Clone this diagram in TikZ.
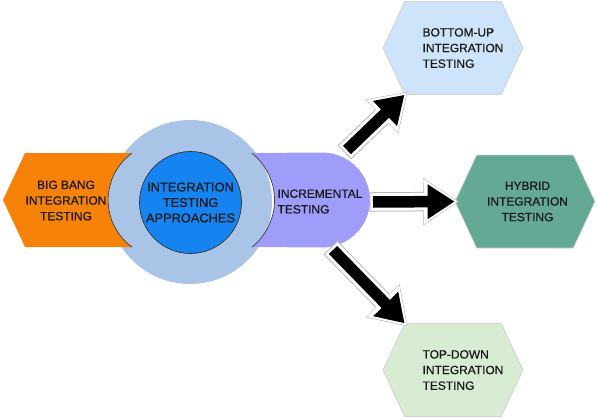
\documentclass[tikz,border=0pt]{standalone}
\usepackage{fontspec}
\setmainfont{Liberation Sans}
\newfontfamily\diagfont{Liberation Sans}[FakeBold=0.6]
\definecolor{ring_c}{RGB}{170,196,232}
\definecolor{core_c}{RGB}{22,132,240}
\definecolor{bang_c}{RGB}{246,130,10}
\definecolor{inc_c}{RGB}{160,156,250}
\definecolor{bu_c}{RGB}{206,228,250}
\definecolor{hy_c}{RGB}{100,168,150}
\definecolor{td_c}{RGB}{216,235,211}
\usetikzlibrary{arrows.meta,
                positioning,
                shapes.symbols}

\begin{document}
\begin{tikzpicture}[
			txt/.style = {font=\diagfont\fontsize{6.8}{8.9}\selectfont, text=black!90, align=center},
			hex/.style = {signal, signal to=east and west, signal pointer angle=130,
			              minimum width=2.8cm, minimum height=1.86cm, draw=gray!35, inner sep=0pt},
			blockarrow/.style = {line width=0.23cm, black,
			              -{Triangle[width=0.66cm,length=0.54cm]},
			              preaction={draw=gray!55, line width=0.39cm, shorten <=-0.07cm, shorten >=-0.09cm,
			                         -{Triangle[width=0.9cm,length=0.72cm]}},
			              preaction={draw=white, line width=0.35cm, shorten <=-0.05cm, shorten >=-0.07cm,
			                         -{Triangle[width=0.86cm,length=0.69cm]}}},
			]
			\useasboundingbox (0,0) rectangle (11.94,8.36);
			% circles
			\fill[ring_c] (3.8,4.32) circle(1.64cm);
			% side shapes
			\fill[bang_c] (2.64,5.30) -- (0.5,5.30) -- (0.06,4.36) -- (0.5,3.42) -- (2.64,3.42)
			      arc[start angle=234, end angle=126, radius=1.16cm];
			\draw[black!75] (2.64,3.42) arc[start angle=234, end angle=126, radius=1.16cm];
			\fill[inc_c] (5.04,5.30) -- (6.44,5.31) arc[start angle=90, end angle=-90, x radius=0.96cm, y radius=0.95cm]
			      -- (5.04,3.42) arc[start angle=-51.4, end angle=51.4, radius=1.2cm];
			\draw[black!75] (5.04,3.42) arc[start angle=-51.4, end angle=51.4, radius=1.2cm];
			\node[txt, circle, fill=core_c, draw=black!80, minimum size=2.04cm, inner sep=0pt,
			      font=\diagfont\fontsize{7.3}{8.8}\selectfont] (core) at (3.81,4.31) {INTEGRATION\\TESTING\\APPROACHES};
			% labels
			\node[txt] (bang) at (1.32,4.35) {BIG BANG\\INTEGRATION\\TESTING};
			\node[txt, align=left] (inc) at (6.40,4.33) {INCREMENTAL\\TESTING};
			% hexagons
			\node[hex, fill=bu_c] (bu) at (9.06,7.40) {};
			\node[hex, fill=hy_c] (hy) at (10.5,4.33) {};
			\node[hex, fill=td_c] (td) at (9.06,0.96) {};
			\node[txt, align=left] (bu_t) at ([xshift=0.2cm]bu.center) {BOTTOM-UP\\INTEGRATION\\TESTING};
			\node[txt] (hy_t) at ([xshift=0.05cm]hy.center) {HYBRID\\INTEGRATION\\TESTING};
			\node[txt, align=left] (td_t) at ([xshift=0.2cm]td.center) {TOP-DOWN\\INTEGRATION\\TESTING};
			% arrows
			\coordinate (t1) at (6.94,5.36);
			\coordinate (t2) at (7.46,4.32);
			\coordinate (t3) at (6.66,3.36);
			\draw[blockarrow] (t1) -- (bu.224);
			\draw[blockarrow] (t2) -- (hy.west);
			\draw[blockarrow] (t3) -- (td.136);
		\end{tikzpicture}
\end{document}
